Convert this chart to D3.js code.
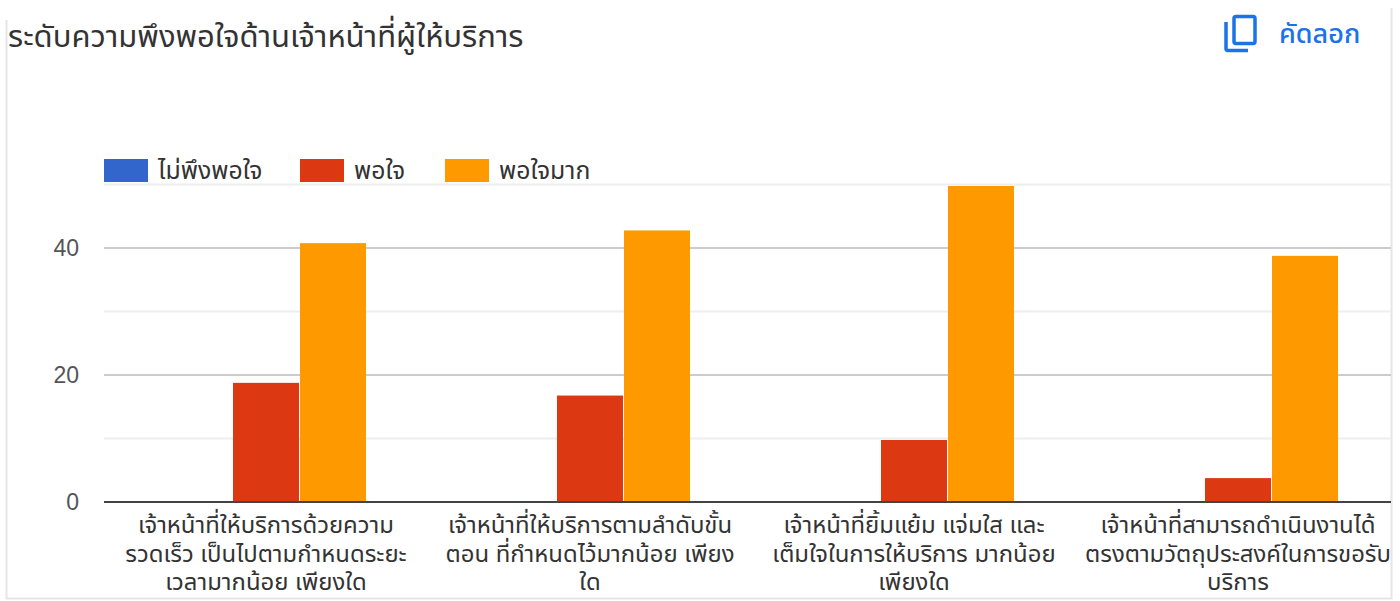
<!DOCTYPE html>
<html><head><meta charset="utf-8">
<script src="https://cdn.jsdelivr.net/npm/d3@7"></script>
<style>html,body{margin:0;padding:0;background:#fff}svg{display:block}</style>
</head><body><svg id="c" width="1400" height="601"></svg>
<script>
const titleText = "ระดับความพึงพอใจด้านเจ้าหน้าที่ผู้ให้บริการ";
const copyText = "คัดลอก";
const seriesNames = ["ไม่พึงพอใจ","พอใจ","พอใจมาก"];
const seriesColors = ["#3366cc","#dc3912","#ff9900"];
const categories = ["c1","c2","c3","c4"];
const categoryLabels = [
 ["เจ้าหน้าที่ให้บริการด้วยความ","รวดเร็ว เป็นไปตามกำหนดระยะ","เวลามากน้อย เพียงใด"],
 ["เจ้าหน้าที่ให้บริการตามลำดับขั้น","ตอน ที่กำหนดไว้มากน้อย เพียง","ใด"],
 ["เจ้าหน้าที่ยิ้มแย้ม แจ่มใส และ","เต็มใจในการให้บริการ มากน้อย","เพียงใด"],
 ["เจ้าหน้าที่สามารถดำเนินงานได้","ตรงตามวัตถุประสงค์ในการขอรับ","บริการ"]
];
const notSatisfied = [0,0,0,0];
const satisfied = [19,17,10,4];
const verySatisfied = [41,43,50,39];
const majorTicks = [0,20,40];
const minorTicks = [10,30,50];

const font = "'Liberation Sans','Noto Sans Thai','Noto Sans',Roboto,sans-serif";
const svg = d3.select("#c");
const plotL=104, plotR=1391, base=502, top50=184.5, barInset=1.5;
const x = d3.scaleBand().domain(categories).range([104,1400]);
const x1 = d3.scaleBand().domain(d3.range(3)).range([0,200]).paddingInner(0.015);
const y = d3.scaleLinear().domain([0,50]).range([base,top50]);

// frame
svg.append("path").attr("d","M6.5 20V598.5H1391.5V8").attr("fill","none").attr("stroke","#e6e6e6").attr("stroke-width",2);

// grid
svg.append("g").selectAll("line").data(minorTicks).join("line")
  .attr("x1",plotL).attr("x2",plotR).attr("y1",d=>y(d)).attr("y2",d=>y(d))
  .attr("stroke","#eeeeee").attr("stroke-width",2);
svg.append("g").selectAll("line").data(majorTicks.filter(d=>d)).join("line")
  .attr("x1",plotL).attr("x2",plotR).attr("y1",d=>y(d)).attr("y2",d=>y(d))
  .attr("stroke","#cccccc").attr("stroke-width",2);

// bars
const all=[notSatisfied,satisfied,verySatisfied];
const groups=svg.append("g").selectAll("g").data(categories).join("g")
  .attr("transform",d=>`translate(${x(d)+x.bandwidth()/2-100},0)`);
groups.selectAll("rect").data((d,i)=>all.map((s,k)=>({k,v:s[i]}))).join("rect")
  .attr("x",d=>x1(d.k)).attr("width",x1.bandwidth())
  .attr("y",d=>y(d.v)+barInset).attr("height",d=>Math.max(0,base-y(d.v)-barInset))
  .attr("fill",d=>seriesColors[d.k]);

// baseline
svg.append("line").attr("x1",plotL).attr("x2",plotR).attr("y1",base).attr("y2",base).attr("stroke","#444").attr("stroke-width",2);

// y axis labels
svg.append("g").selectAll("text").data(majorTicks).join("text")
  .attr("x",79).attr("y",d=>y(d)+8).attr("text-anchor","end")
  .attr("font-family",font).attr("font-size",23).attr("fill","#555").text(d=>d);

// x labels
const xl=svg.append("g").selectAll("text").data(categories).join("text")
  .attr("text-anchor","middle").attr("font-family",font).attr("font-size",23.9).attr("fill","#333");
xl.each(function(d,i){
  d3.select(this).selectAll("tspan").data(categoryLabels[i]).join("tspan")
    .attr("x",x(d)+x.bandwidth()/2).attr("y",(t,j)=>533+j*28.5).text(t=>t);
});

// title
svg.append("text").attr("x",8).attr("y",47).attr("font-family",font).attr("font-size",31).attr("fill","#333").text(titleText);

// copy
svg.append("path").attr("d","M1226 22V48.5Q1226 50.5 1228 50.5H1248").attr("fill","none").attr("stroke","#1a73e8").attr("stroke-width",3.5);
svg.append("rect").attr("x",1234).attr("y",16.5).attr("width",21).attr("height",27).attr("rx",2).attr("fill","none").attr("stroke","#1a73e8").attr("stroke-width",3.5);
svg.append("text").attr("x",1279).attr("y",43).attr("font-family",font).attr("font-size",27).attr("font-weight",500).attr("fill","#1a73e8").text(copyText);

// legend
const legX=[104,300,445];
const lg=svg.append("g").selectAll("g").data(seriesNames).join("g").attr("transform",(d,i)=>`translate(${legX[i]},0)`);
lg.append("rect").attr("y",159).attr("width",44).attr("height",23).attr("fill",(d,i)=>seriesColors[i]);
lg.append("text").attr("x",54).attr("y",179).attr("font-family",font).attr("font-size",24.8).attr("fill","#333").text(d=>d);
</script></body></html>
